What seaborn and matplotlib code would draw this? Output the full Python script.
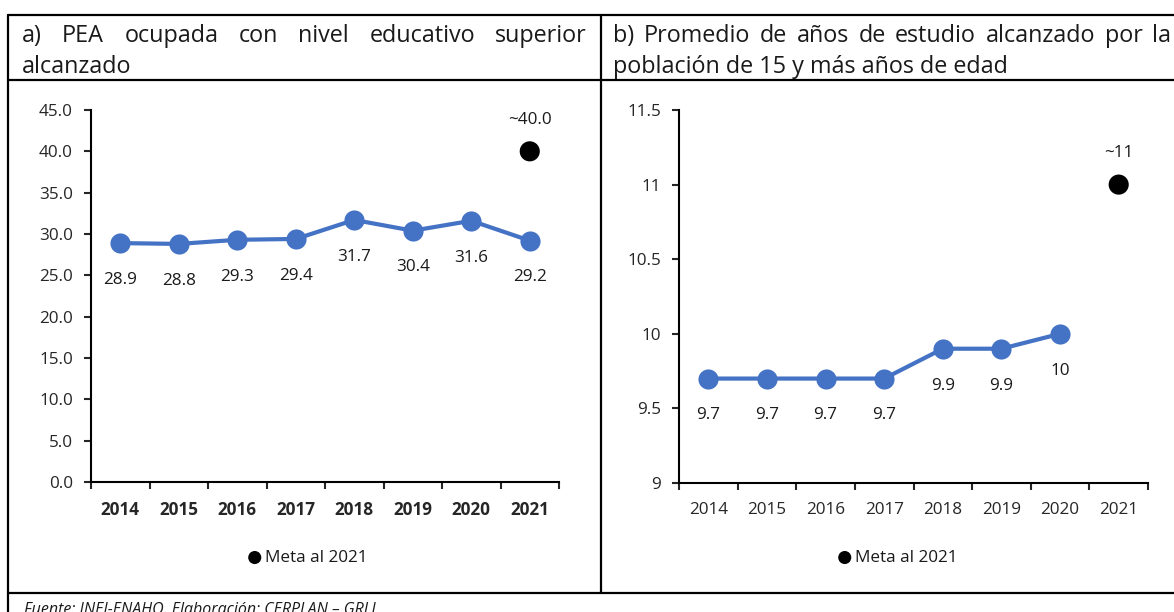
import numpy as np
import pandas as pd
import matplotlib
matplotlib.use("Agg")
import matplotlib.pyplot as plt
from matplotlib.lines import Line2D
import seaborn as sns

years = [2014, 2015, 2016, 2017, 2018, 2019, 2020, 2021]
pea_values = [28.9, 28.8, 29.3, 29.4, 31.7, 30.4, 31.6, 29.2]
pea_labels = ["28.9", "28.8", "29.3", "29.4", "31.7", "30.4", "31.6", "29.2"]
pea_goal = 40.0
pea_goal_label = "~40.0"

study_years = [2014, 2015, 2016, 2017, 2018, 2019, 2020]
study_values = [9.7, 9.7, 9.7, 9.7, 9.9, 9.9, 10.0]
study_labels = ["9.7", "9.7", "9.7", "9.7", "9.9", "9.9", "10"]
study_goal = 11.0
study_goal_label = "~11"
goal_year = 2021

pea_yticks = [0, 5, 10, 15, 20, 25, 30, 35, 40, 45]
pea_yticklabels = ["0.0", "5.0", "10.0", "15.0", "20.0", "25.0", "30.0", "35.0", "40.0", "45.0"]
study_yticks = [9, 9.5, 10, 10.5, 11, 11.5]
study_yticklabels = ["9", "9.5", "10", "10.5", "11", "11.5"]

title_a = ["a)", "PEA", "ocupada", "con", "nivel", "educativo", "superior"]
title_a2 = "alcanzado"
title_b = ["b)", "Promedio", "de", "años", "de", "estudio", "alcanzado", "por", "la"]
title_b2 = "población de 15 y más años de edad"
source = "Fuente: INEI-ENAHO. Elaboración: CERPLAN – GRLL"

W, H = 1174, 612
BLUE = "#4472C4"
FS = 12.3
TFS = 16.8

sns.set_theme(style="ticks")
plt.rcParams["font.family"] = ["Open Sans", "DejaVu Sans"]
plt.rcParams["text.color"] = "#1a1a1a"

fig = plt.figure(figsize=(W / 100, H / 100), dpi=100)


def box(l, t, r, b):
    return [l / W, 1 - b / H, (r - l) / W, (b - t) / H]


def hline(y, x0, x1):
    fig.add_artist(Line2D([x0 / W, x1 / W], [1 - y / H, 1 - y / H],
                          transform=fig.transFigure, color="black", lw=1.6))


def vline(x, y0, y1):
    fig.add_artist(Line2D([x / W, x / W], [1 - y0 / H, 1 - y1 / H],
                          transform=fig.transFigure, color="black", lw=1.6))


def justified(words, x0, x1, y, size):
    r = fig.canvas.get_renderer()
    texts = [fig.text(0, 1 - y / H, w, fontsize=size, va="center") for w in words]
    widths = [t.get_window_extent(r).width for t in texts]
    gap = (x1 - x0 - sum(widths)) / (len(words) - 1)
    x = x0
    for t, w in zip(texts, widths):
        t.set_x(x / W)
        x += w + gap


def draw_panel(ax, xs, ys, labels, goal, goal_label, yticks, yticklabels, bold, legend_x):
    df = pd.DataFrame({"year": xs, "value": ys})
    sns.lineplot(data=df, x="year", y="value", ax=ax, color=BLUE, linewidth=3,
                 marker="o", markersize=14.5, markeredgewidth=0, legend=False)
    sns.scatterplot(x=[goal_year], y=[goal], ax=ax, color="black", s=210,
                    edgecolor="none", label="Meta al 2021", legend=False)
    for x, y, lab in zip(xs, ys, labels):
        ax.annotate(lab, (x, y), xytext=(0, -26.5), textcoords="offset points",
                    ha="center", va="center", fontsize=FS)
    ax.annotate(goal_label, (goal_year, goal), xytext=(0, 22.5), textcoords="offset points",
                ha="center", va="center", fontsize=FS)

    ax.set_xlim(years[0] - 0.5, years[-1] + 0.5)
    ax.set_xticks(np.arange(years[0] - 0.5, years[-1] + 1))
    ax.set_xticks(years, minor=True)
    ax.set_xticklabels([str(y) for y in years], minor=True,
                       fontweight="bold" if bold else "normal", fontsize=FS)
    ax.tick_params(axis="x", which="major", length=5, width=1.5, labelbottom=False)
    ax.tick_params(axis="x", which="minor", length=0, pad=13.5)
    ax.set_ylim(yticks[0], yticks[-1])
    ax.set_yticks(yticks)
    ax.set_yticklabels(yticklabels, fontsize=FS)
    ax.tick_params(axis="y", length=5, width=1.5, pad=8)
    ax.set_xlabel("")
    ax.set_ylabel("")
    sns.despine(ax=ax)
    for s in ["left", "bottom"]:
        ax.spines[s].set_color("black")
        ax.spines[s].set_linewidth(1.5)

    ax.legend(loc="center", bbox_to_anchor=(legend_x / W, 1 - 558 / H),
              bbox_transform=fig.transFigure, frameon=False, fontsize=FS,
              handletextpad=0.0, handlelength=1.2, markerscale=0.65)


ax1 = fig.add_axes(box(91, 110, 559, 482))
ax2 = fig.add_axes(box(679, 110, 1148, 483))

draw_panel(ax1, years, pea_values, pea_labels, pea_goal, pea_goal_label,
           pea_yticks, pea_yticklabels, True, 306)
draw_panel(ax2, study_years, study_values, study_labels, study_goal, study_goal_label,
           study_yticks, study_yticklabels, False, 896)

# table borders
hline(15, 8, W)
hline(80, 8, W)
hline(593, 8, W)
vline(8, 15, H)
vline(601, 15, 593)

justified(title_a, 22, 587, 36, TFS)
fig.text(22 / W, 1 - 67 / H, title_a2, fontsize=TFS, va="center")
justified(title_b, 613, 1171, 36, TFS)
fig.text(613 / W, 1 - 67 / H, title_b2, fontsize=TFS, va="center")

# source line, clipped by the bottom edge as in the original
fig.text(24 / W, 1 - 602 / H, source, fontsize=11.5, fontstyle="italic", va="top")

fig.savefig("out.png", dpi=100)
